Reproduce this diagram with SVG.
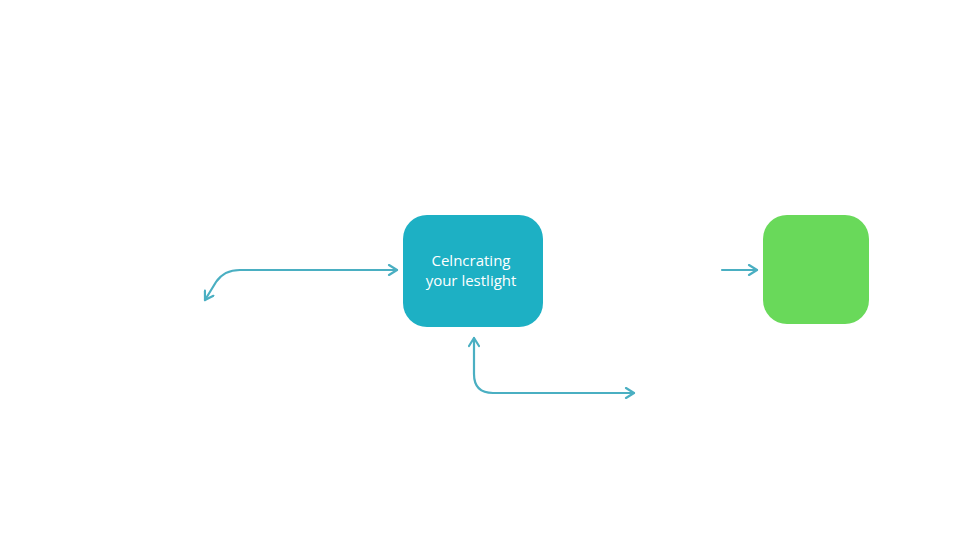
<svg xmlns="http://www.w3.org/2000/svg" width="960" height="540" viewBox="0 0 960 540">
<style>
.conn{fill:none;stroke:#4aafc2;stroke-width:2.2;stroke-linecap:round;stroke-linejoin:round}
.lbl{font-family:"Open Sans","Liberation Sans",sans-serif;font-size:15px;fill:#ffffff;text-anchor:middle}
</style>
<defs>
<marker id="arr" viewBox="0 0 12 12" refX="10" refY="6" markerWidth="12" markerHeight="12" markerUnits="userSpaceOnUse" orient="auto-start-reverse">
<path d="M2,1 L10,6 L2,11" fill="none" stroke="#4aafc2" stroke-width="2.2" stroke-linecap="round" stroke-linejoin="round"/>
</marker>
</defs>
<rect width="960" height="540" fill="#ffffff"/>
<g id="connectors">
<path class="conn" d="M397,270 L240,270 Q224,270 216,282 L205,300" marker-start="url(#arr)" marker-end="url(#arr)"/>
<path class="conn" d="M474,338 L474,374 Q474,393 493,393 L634,393" marker-start="url(#arr)" marker-end="url(#arr)"/>
<path class="conn" d="M722,270 L757,270" marker-end="url(#arr)"/>
</g>
<g id="node-main">
<rect x="403" y="215" width="140" height="112" rx="24" fill="#1db0c4"/>
<text class="lbl" x="471" y="266">Celncrating</text>
<text class="lbl" x="471" y="286">your lestlight</text>
</g>
<g id="node-green">
<rect x="763" y="215" width="106" height="109" rx="24" fill="#69d95a"/>
</g>
</svg>
